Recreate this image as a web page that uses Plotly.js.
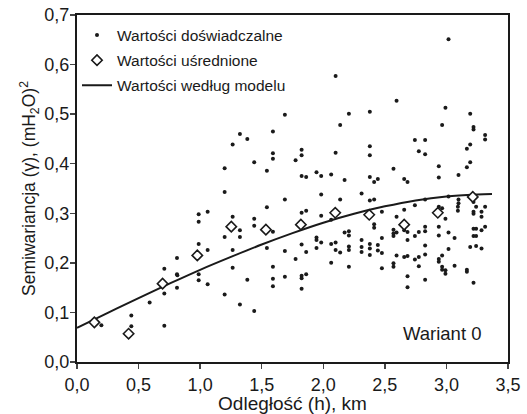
<!DOCTYPE html>
<html>
<head>
<meta charset="utf-8">
<script src="https://cdn.plot.ly/plotly-3.0.1.min.js"></script>
<style>html,body{margin:0;padding:0;background:#fff;}#chart{width:527px;height:414px;}</style>
</head>
<body>
<div id="chart"></div>
<script>
// Experimental semivariance values (Wartości doświadczalne)
var expX = [0.198,0.441,0.441,0.590,0.709,0.709,0.709,0.812,0.812,0.815,0.812,
0.988,0.988,0.988,0.988,0.988,1.061,1.061,1.061,
1.199,1.199,1.199,1.199,1.264,1.264,1.264,1.264,
1.323,1.323,1.323,1.323,1.383,1.383,1.439,1.439,1.439,1.439,
1.542,1.542,1.542,1.591,1.591,1.591,1.591,1.591,1.591,1.591,
1.688,1.688,1.688,1.688,1.775,1.775,
1.824,1.824,1.824,1.824,1.824,1.824,1.824,1.824,
1.861,1.861,1.861,1.861,1.945,1.945,1.945,1.945,
1.983,1.983,1.983,1.983,2.064,2.064,2.064,2.064,
2.100,2.100,2.100,2.100,2.137,2.137,2.137,2.173,2.173,
2.208,2.208,2.208,2.208,2.208,2.208,
2.311,2.311,2.311,2.311,
2.378,2.378,2.378,2.378,2.378,2.378,2.378,2.378,
2.413,2.413,2.413,2.413,2.443,2.443,2.443,
2.476,2.476,2.476,2.476,
2.570,2.570,2.570,2.570,2.570,2.570,
2.595,2.595,2.595,2.595,
2.657,2.657,2.657,2.657,2.657,
2.684,2.684,2.684,2.684,2.684,2.684,
2.744,2.744,2.744,2.744,2.776,2.776,2.776,2.776,
2.827,2.827,2.827,2.827,2.827,2.827,2.827,2.827,
2.938,2.938,2.938,2.938,2.938,2.938,2.938,
2.965,2.965,2.965,2.965,2.965,
2.992,2.992,2.992,2.992,
3.017,3.017,3.017,3.017,
3.066,3.066,3.093,3.093,3.098,3.098,3.098,
3.166,3.166,3.166,3.166,
3.193,3.193,3.193,3.193,
3.220,3.220,3.220,3.220,3.220,3.220,3.220,3.220,
3.241,3.241,3.241,3.241,
3.285,3.285,3.285,3.285,
3.314,3.314,3.314,3.314];
var expY = [0.074,0.094,0.072,0.120,0.188,0.138,0.073,0.210,0.177,0.175,0.150,
0.298,0.283,0.238,0.177,0.165,0.303,0.226,0.157,
0.391,0.343,0.252,0.136,0.439,0.293,0.226,0.190,
0.460,0.266,0.252,0.116,0.450,0.166,0.403,0.289,0.275,0.103,
0.386,0.312,0.230,0.465,0.421,0.410,0.263,0.192,0.168,0.153,
0.499,0.328,0.224,0.172,0.407,0.208,
0.428,0.417,0.375,0.301,0.237,0.174,0.169,0.148,
0.373,0.305,0.222,0.177,0.383,0.251,0.246,0.230,
0.375,0.338,0.295,0.241,0.378,0.287,0.238,0.200,
0.577,0.422,0.241,0.226,0.478,0.328,0.221,0.367,0.261,
0.501,0.264,0.255,0.233,0.226,0.192,
0.340,0.246,0.232,0.222,
0.505,0.435,0.417,0.373,0.326,0.238,0.229,0.216,
0.363,0.328,0.278,0.271,0.369,0.236,0.225,
0.303,0.250,0.220,0.189,
0.390,0.267,0.259,0.254,0.199,0.192,
0.527,0.293,0.261,0.215,
0.369,0.307,0.281,0.266,0.212,
0.363,0.262,0.246,0.214,0.173,0.151,
0.448,0.316,0.254,0.207,0.425,0.262,0.212,0.193,
0.448,0.419,0.328,0.273,0.264,0.235,0.217,0.166,
0.395,0.372,0.313,0.273,0.255,0.208,0.202,
0.478,0.310,0.215,0.192,0.186,
0.513,0.289,0.178,0.185,
0.651,0.334,0.261,0.228,
0.250,0.194,0.313,0.305,0.377,0.328,0.320,
0.393,0.430,0.186,0.182,
0.501,0.439,0.403,0.232,
0.474,0.469,0.323,0.303,0.299,0.269,0.254,0.160,
0.313,0.269,0.254,0.234,
0.303,0.293,0.266,0.229,
0.458,0.449,0.313,0.273];

// Averaged values (Wartości uśrednione)
var avgX = [0.141,0.419,0.695,0.977,1.253,1.534,1.818,2.097,2.373,2.657,2.930,3.214];
var avgY = [0.080,0.057,0.158,0.215,0.273,0.267,0.277,0.301,0.297,0.277,0.301,0.333];

// Model values (Wartości według modelu)
var modX = [0,0.25,0.5,0.75,1.0,1.25,1.5,1.75,2.0,2.25,2.5,2.75,3.0,3.25,3.37];
var modY = [0.069,0.099,0.129,0.158,0.186,0.212,0.237,0.260,0.281,0.299,0.314,0.326,0.334,0.338,0.339];

var xTicks = [0,0.5,1,1.5,2,2.5,3,3.5];
var yTicks = [0,0.1,0.2,0.3,0.4,0.5,0.6,0.7];

var FONT = 'Liberation Sans, Arial, sans-serif';

var traces = [
  {x: expX, y: expY, type: 'scatter', mode: 'markers', name: 'Wartości doświadczalne',
   legendgroup: 'a', marker: {symbol: 'circle', size: 4, color: '#1a1a1a'}},
  {x: modX, y: modY, type: 'scatter', mode: 'lines', name: 'Wartości według modelu',
   legendgroup: 'c', line: {color: '#1a1a1a', width: 2, shape: 'spline'}, legendrank: 3},
  {x: avgX, y: avgY, type: 'scatter', mode: 'markers', name: 'Wartości uśrednione',
   legendgroup: 'b', marker: {symbol: 'diamond', size: 8, color: '#ffffff', line: {color: '#1a1a1a', width: 1.6}}, legendrank: 2}
];
traces[0].legendrank = 1;

var layout = {
  width: 527, height: 414,
  margin: {l: 77, r: 19, t: 15, b: 52},
  paper_bgcolor: '#ffffff', plot_bgcolor: '#ffffff',
  separators: ', ',
  font: {family: FONT, color: '#1a1a1a', size: 16},
  showlegend: true,
  legend: {x: 0.0, y: 0.99, xanchor: 'left', yanchor: 'top', bgcolor: 'rgba(0,0,0,0)',
           font: {family: FONT, size: 15.5, color: '#1a1a1a'}, traceorder: 'grouped', tracegroupgap: 2},
  xaxis: {range: [0, 3.5], tickvals: xTicks, tickformat: '.1f', ticks: 'outside', ticklen: 5, tickwidth: 1.5,
          showline: true, linewidth: 2, linecolor: '#1a1a1a', mirror: true, showgrid: false, zeroline: false,
          tickfont: {size: 18}, title: {text: 'Odległość (h), km', font: {size: 19}, standoff: 1}},
  yaxis: {range: [0, 0.7], tickvals: yTicks, tickformat: '.1f', ticks: 'outside', ticklen: 5, tickwidth: 1.5,
          ticklabelstandoff: -3,
          showline: true, linewidth: 2, linecolor: '#1a1a1a', mirror: true, showgrid: false, zeroline: false,
          tickfont: {size: 18}, title: {text: 'Semiwariancja (γ), (mH<sub>2</sub>O)<sup>2</sup>', font: {size: 17.5}, standoff: 4}},
  annotations: [{x: 2.965, y: 0.058, xref: 'x', yref: 'y', text: 'Wariant 0', showarrow: false,
                 font: {family: FONT, size: 18.5, color: '#1a1a1a'}}]
};

Plotly.newPlot('chart', traces, layout, {displayModeBar: false, staticPlot: true});
</script>
</body>
</html>
